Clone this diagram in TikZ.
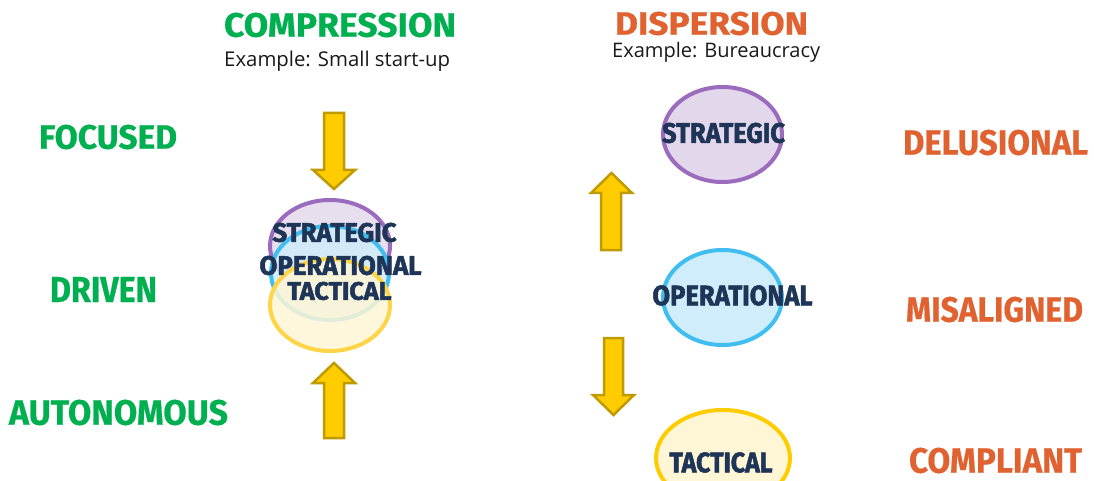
\documentclass[tikz,border=0pt]{standalone}
\usepackage{graphicx}
\usepackage{fontspec}
\setmainfont{Fira Sans}[BoldFeatures={FakeBold=0.6}]
\newfontfamily\heavyfont{Fira Sans}[BoldFeatures={FakeBold=2}]
\newfontfamily\exfont{Open Sans}
\definecolor{cgreen}{RGB}{0,176,80}
\definecolor{corange}{RGB}{224,98,48}
\definecolor{cnavy}{RGB}{31,53,87}
\definecolor{cpurple}{RGB}{155,107,190}
\definecolor{cpurplef}{RGB}{227,216,235}
\definecolor{cblue}{RGB}{64,190,240}
\definecolor{cbluef}{RGB}{207,237,251}
\definecolor{cyellow}{RGB}{255,204,0}
\definecolor{cyellowl}{RGB}{255,212,70}
\definecolor{cyellowf}{RGB}{255,246,214}
\definecolor{carrowb}{RGB}{191,154,0}
\newcommand{\fitlbl}[3]{\resizebox{#1pt}{#2pt}{\bfseries #3}}
\newcommand{\fitheavy}[3]{\resizebox{#1pt}{#2pt}{\heavyfont\bfseries #3}}
\tikzset{
  lbl/.style={inner sep=0pt, outer sep=0pt, anchor=center},
  green lbl/.style={lbl, text=cgreen},
  orange lbl/.style={lbl, text=corange},
  level lbl/.style={lbl, text=cnavy},
  example/.style={inner sep=0pt, anchor=base west, text=black!90},
  blockarrow/.style={fill=cyellow, draw=carrowb, line width=2.5pt, line join=miter},
  purple ell/.style={draw=cpurple, fill=cpurplef, line width=4pt},
  blue ell/.style={draw=cblue, fill=cbluef, line width=4pt},
  yellow ell/.style={draw=cyellow, fill=cyellowf, line width=4pt},
}
\begin{document}
\begin{tikzpicture}[x=1pt,y=-1pt]
\useasboundingbox (0,0) rectangle (1094,481);
% titles
\node[green lbl] (comp) at (340,25) {\fitlbl{232}{24}{COMPRESSION}};
\node[example] (compex) at (224,67) {\resizebox{226pt}{!}{\exfont Example: Small start-up}};
\node[orange lbl] (disp) at (711.5,23.5) {\fitlbl{193}{23}{DISPERSION}};
\node[example] (dispex) at (612,58) {\resizebox{208pt}{!}{\exfont Example: Bureaucracy}};
% left side words
\node[green lbl] (focused) at (108,137) {\fitlbl{138}{24}{FOCUSED}};
\node[green lbl] (driven) at (103.5,289.5) {\fitlbl{107}{25}{DRIVEN}};
\node[green lbl] (auton) at (118.5,412.5) {\fitlbl{219}{25}{AUTONOMOUS}};
% right side words
\node[orange lbl] (delus) at (995.5,142.5) {\fitlbl{185}{25}{DELUSIONAL}};
\node[orange lbl] (misal) at (994.5,309.5) {\fitlbl{177}{25}{MISALIGNED}};
\node[orange lbl] (compl) at (995.5,460.5) {\fitlbl{173}{25}{COMPLIANT}};
% left arrows
\draw[blockarrow] (324,113) -- (344,113) -- (344,170) -- (355,170) -- (334,189) -- (313,170) -- (324,170) -- cycle;
\draw[blockarrow] (324,438) -- (344,438) -- (344,383) -- (355,383) -- (334,363) -- (313,383) -- (324,383) -- cycle;
% left compressed ellipses
\begin{scope}[fill opacity=0.85]
\draw[purple ell] (330,246) ellipse [x radius=60, y radius=46];
\draw[blue ell] (330,273) ellipse [x radius=59, y radius=47];
\draw[yellow ell, draw=cyellowl] (330,305) ellipse [x radius=60, y radius=46];
\end{scope}
\node[level lbl] (lstrat) at (334.5,232.5) {\fitheavy{124}{19}{STRATEGIC}};
\node[level lbl] (lop) at (340.5,265.5) {\fitheavy{162}{19}{OPERATIONAL}};
\node[level lbl] (ltac) at (339.5,291) {\fitheavy{104}{18}{TACTICAL}};
% right arrows
\draw[blockarrow] (601,250) -- (621,250) -- (621,193) -- (632,193) -- (611.5,173) -- (591,193) -- (601,193) -- cycle;
\draw[blockarrow] (604,338) -- (623,338) -- (623,395) -- (634,395) -- (613.5,415) -- (593,395) -- (604,395) -- cycle;
% right dispersed ellipses
\draw[purple ell] (722.5,134.5) ellipse [x radius=59.5, y radius=47.5];
\draw[blue ell] (722.5,297.5) ellipse [x radius=59.5, y radius=47.5];
\begin{scope}
\clip (0,0) rectangle (1094,481);
\draw[yellow ell] (723,458) ellipse [x radius=67, y radius=48];
\end{scope}
\node[level lbl] (rstrat) at (723.5,133) {\fitheavy{123}{20}{STRATEGIC}};
\node[level lbl] (rop) at (732.5,295.5) {\fitheavy{160}{20}{OPERATIONAL}};
\node[level lbl] (rtac) at (721,462.5) {\fitheavy{103}{20}{TACTICAL}};
\end{tikzpicture}
\end{document}
